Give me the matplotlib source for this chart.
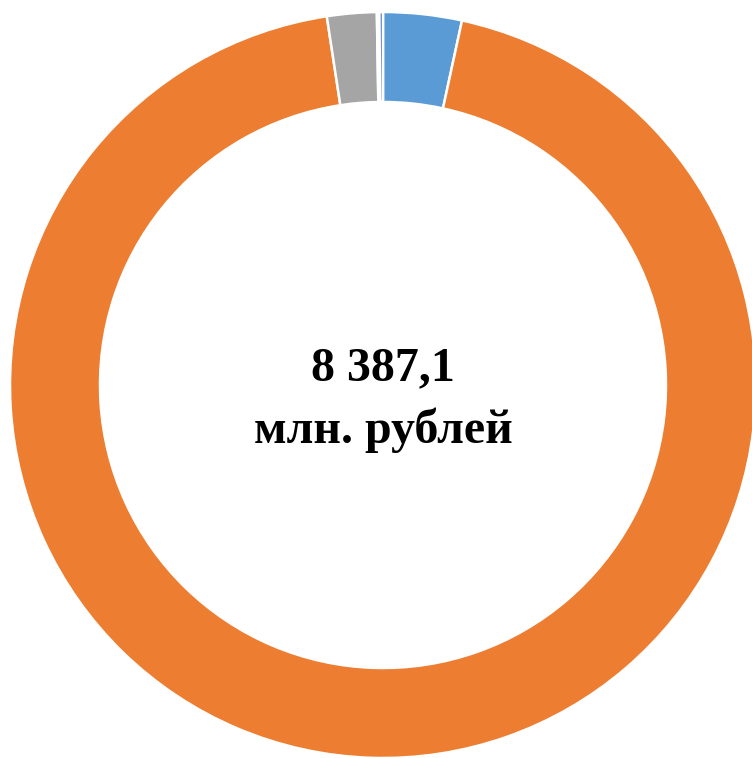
import matplotlib.pyplot as plt

# share of the total, mln rubles
labels = ['A', 'B', 'C', 'D', 'E']
values = [285.0, 7900.1, 180.0, 9.0, 13.0]
colors = ['#5B9BD5', '#ED7D31', '#A5A5A5', '#FFC000', '#4472C4']
total_text = '8 387,1'
unit_text = 'млн. рублей'

W, H = 752, 758
fig = plt.figure(figsize=(W / 100, H / 100), dpi=100)
ax = fig.add_axes([0, 0, 1, 1])
ax.set_xlim(0, W)
ax.set_ylim(0, H)
ax.set_aspect('equal')
ax.axis('off')

cx, cy, r = 383, H - 385, 373
ax.pie(values, colors=colors, startangle=90, counterclock=False,
       center=(cx, cy), radius=r,
       wedgeprops=dict(width=90, edgecolor='white', linewidth=1.8))
ax.set_xlim(0, W)
ax.set_ylim(0, H)

ax.text(cx, H - 368, total_text, ha='center', va='center',
        fontsize=34.5, fontweight='bold', family='Liberation Serif')
ax.text(cx, H - 430, unit_text, ha='center', va='center',
        fontsize=34.5, fontweight='bold', family='Liberation Serif')

fig.savefig('out.png', dpi=100)
